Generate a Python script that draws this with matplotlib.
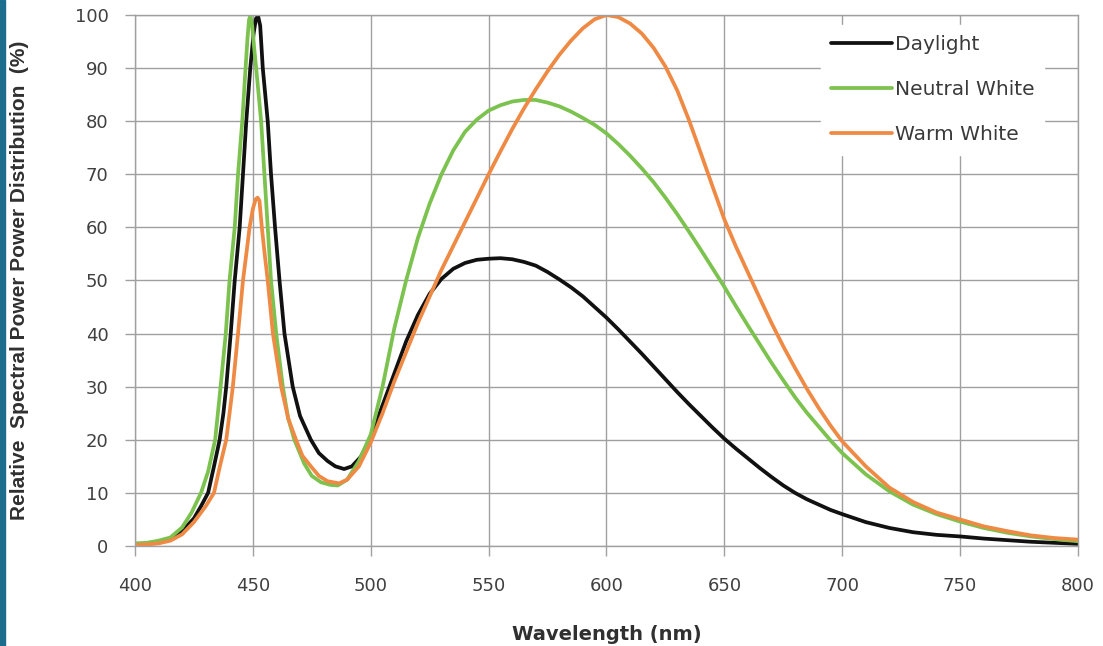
import matplotlib
matplotlib.use("Agg")
import matplotlib.pyplot as plt
from matplotlib.patches import Rectangle
from matplotlib import font_manager

# wavelength (nm) / relative power (%), per series
daylight_wl = [400, 405, 410, 415, 420, 425, 428, 431, 433.5, 435.9, 437.5, 438.7,
               440.6, 442.3, 444.4, 445.8, 447.2, 448.9, 450.3, 451.3, 452.2, 453.1,
               454.2, 456.3, 457.7, 459.4, 461.3, 463.4, 466.9, 470, 474.6, 478,
               481.7, 485, 488.7, 492, 495.8,
               500, 505, 510, 515, 520, 525, 530, 535, 540, 545, 550, 555, 560, 565,
               570, 575, 580, 585, 590, 595, 600, 605, 610, 615, 620, 625, 630, 635,
               640, 645, 650, 655, 660, 665, 670, 675, 680, 685, 690, 695, 700,
               710, 720, 730, 740, 750, 760, 770, 780, 790, 800]
daylight = [0.3, 0.4, 0.6, 1.3, 2.8, 5.2, 7.5, 10, 15, 20, 25, 30,
            40, 50, 60, 70, 80, 90, 96.5, 99.3, 99.8, 98,
            90, 80, 70, 60, 50, 40, 30, 24.5, 20, 17.5,
            16, 15, 14.5, 15, 16.8,
            20.5, 26.5, 32.5, 38.5, 43.5, 47.5, 50.3, 52.2, 53.3, 53.9, 54.1, 54.2, 54, 53.5,
            52.8, 51.6, 50.2, 48.7, 47, 45, 43, 40.8, 38.5, 36.2, 33.8, 31.4, 29, 26.7,
            24.5, 22.3, 20.2, 18.3, 16.5, 14.7, 13, 11.4, 10, 8.8, 7.8, 6.8, 6,
            4.5, 3.4, 2.6, 2.1, 1.8, 1.4, 1.1, 0.8, 0.6, 0.4]

neutral_wl = [400, 405, 410, 415, 420, 424, 428, 431, 434, 436.3, 438.5, 440.1,
              442.3, 443.7, 445.5, 446.9, 447.7, 448.4, 449.0, 449.7, 450.5, 451.4,
              453.5, 454.9, 456.3, 457.7, 459.9, 462.7, 465, 467.6, 471.8, 475,
              478.9, 483, 486, 490, 495,
              500, 505, 510, 515, 520, 525, 530, 535, 540, 545, 550, 555, 560, 565,
              570, 575, 580, 585, 590, 595, 600, 605, 610, 615, 620, 625, 630, 635,
              640, 645, 650, 655, 660, 665, 670, 675, 680, 685, 690, 695, 700,
              710, 720, 730, 740, 750, 760, 770, 780, 790, 800]
neutral = [0.5, 0.6, 1.0, 1.6, 3.5, 6.3, 10, 14, 20, 30, 40, 50,
           60, 70, 80, 90, 95.5, 99.2, 99.8, 98, 94, 90,
           80, 70, 60, 50, 40, 30, 24, 20, 15.5, 13.2,
           12, 11.5, 11.4, 12.5, 16,
           21, 30, 41, 50, 58, 64.5, 70, 74.5, 78, 80.3, 82, 83, 83.7, 84,
           84, 83.5, 82.8, 81.8, 80.6, 79.3, 77.7, 75.7, 73.5, 71.1, 68.5, 65.6, 62.5, 59.2,
           55.8, 52.3, 48.8, 45.1, 41.5, 38, 34.5, 31.2, 28, 25.1, 22.5, 19.9, 17.5,
           13.5, 10.3, 7.8, 6, 4.6, 3.4, 2.5, 1.8, 1.3, 0.9]

warm_wl = [400, 405, 410, 415, 420, 425, 430, 433.5, 436, 438.7, 441.5, 443.7,
           445.8, 447.5, 448.6, 450, 451.2, 452, 452.8, 453.8, 455, 456.3, 458.5,
           462, 465, 468.3, 471, 474.6, 478, 481.7, 486.6, 490, 495,
           500, 505, 510, 515, 520, 525, 530, 535, 540, 545, 550, 555, 560, 565,
           570, 575, 580, 585, 590, 595, 600, 605, 610, 615, 620, 625, 630, 635,
           640, 645, 650, 655, 660, 665, 670, 675, 680, 685, 690, 695, 700,
           710, 720, 730, 740, 750, 760, 770, 780, 790, 800]
warm = [0.2, 0.3, 0.5, 1.0, 2.2, 4.5, 7.5, 10, 15, 20, 30, 40,
        50, 56, 60, 63.5, 65.3, 65.6, 65, 60, 55, 50, 40,
        30, 24, 20, 17, 15, 13.2, 12.2, 11.8, 12.5, 15,
        19.5, 25, 31, 36.5, 42, 47, 52, 56.5, 61, 65.5, 70, 74.3, 78.5, 82.4,
        86, 89.4, 92.5, 95.2, 97.5, 99.2, 100, 99.6, 98.4, 96.5, 93.8, 90.3, 85.8, 80.2,
        74, 67.7, 61.5, 56.3, 51.5, 46.7, 42, 37.6, 33.5, 29.6, 26, 22.7, 19.7,
        15, 11, 8.3, 6.3, 5, 3.7, 2.8, 2, 1.5, 1.2]

series_names = ["Daylight", "Neutral White", "Warm White"]
x_ticks = [400, 450, 500, 550, 600, 650, 700, 750, 800]
y_ticks = [0, 10, 20, 30, 40, 50, 60, 70, 80, 90, 100]

colors = ["#111111", "#7cc24e", "#ef8a45"]

names = {f.name for f in font_manager.fontManager.ttflist}
narrow = "Liberation Sans Narrow" if "Liberation Sans Narrow" in names else "Liberation Sans"

fig = plt.figure(figsize=(11.03, 6.46), dpi=100)
ax = fig.add_axes([0.1224, 0.1548, 0.8549, 0.822])

# thin blue strip at the left edge of the picture
fig.patches.append(Rectangle((0, 0), 0.0045, 1, transform=fig.transFigure,
                             color="#1c6d8e", zorder=0))

for wl, vals, name, c in zip([daylight_wl, neutral_wl, warm_wl],
                             [daylight, neutral, warm], series_names, colors):
    ax.plot(wl, vals, color=c, lw=2.7, label=name,
            solid_joinstyle="round", solid_capstyle="round")

ax.set_xlim(400, 800)
ax.set_ylim(0, 100)
ax.set_xticks(x_ticks)
ax.set_yticks(y_ticks)
ax.grid(True, color="#a0a0a0", lw=1.0)
ax.set_axisbelow(True)
for s in ax.spines.values():
    s.set_color("#a0a0a0")
    s.set_linewidth(1.0)
ax.tick_params(length=7, width=1.0, color="#a0a0a0", labelsize=13,
               labelcolor="#404040")
ax.tick_params(axis="y", pad=12)
ax.tick_params(axis="x", pad=15)

ax.set_xlabel("Wavelength (nm)", fontsize=14, fontweight="bold", color="#303030",
              labelpad=22)
ax.set_ylabel("Relative  Spectral Power Power Distribution  (%)", fontsize=15,
              fontweight="bold", color="#303030", family=narrow)
ax.yaxis.set_label_coords(-0.112, 0.50)

leg = ax.legend(loc="upper right", bbox_to_anchor=(0.975, 1.0), frameon=True,
                fontsize=14.5, handlelength=3.0, handletextpad=0.15,
                labelspacing=1.3, borderpad=0.5)
leg.get_frame().set_edgecolor("white")
leg.get_frame().set_facecolor("white")
leg.get_frame().set_alpha(1)
leg.get_frame().set_boxstyle("square", pad=0)
for t in leg.get_texts():
    t.set_color("#3a3a3a")

fig.savefig("out.png", dpi=100)
